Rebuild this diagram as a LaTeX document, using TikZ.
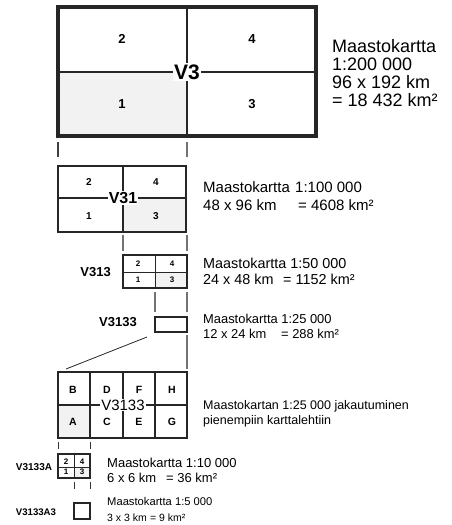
\documentclass[tikz,border=0pt]{standalone}
\usepackage{fontspec}
\setmainfont{Liberation Sans}
\begin{document}
\begin{tikzpicture}[x=1pt,y=-1pt,
  lbl/.style={font=\bfseries\fontsize{#1}{#1}\selectfont, inner sep=0pt},
  vlbl/.style={font=\bfseries\fontsize{#1}{#1}\selectfont, inner sep=1.2pt, fill=white},
  txt/.style={anchor=base west, inner sep=0pt, font=\fontsize{#1}{#1}\selectfont},
  conn/.style={draw=black!55, line width=1.1pt},
  shadecell/.style={fill=black!5},
  frame/.style={draw=black!85, line width=#1}
]
\useasboundingbox (0,0) rectangle (451,525);

% ---------- V3 ----------
\fill[shadecell] (58,72) rectangle (187,136);
\draw[frame=1.8pt] (58,72) -- (316,72) (187,7) -- (187,136);
\draw[frame=3.5pt] (58,7) rectangle (316,136);
\node[lbl=13] (v3a) at (122,39) {2};
\node[lbl=13] (v3b) at (252,39) {4};
\node[lbl=13] (v3c) at (122,104) {1};
\node[lbl=13] (v3d) at (252,104) {3};
\node[vlbl=21] (v3) at (187,72) {V3};
\node[txt=18] (t1a) at (332,52) {Maastokartta};
\node[txt=18] (t1b) at (332,70) {1:200 000};
\node[txt=18] (t1c) at (332,88) {96 x 192 km};
\node[txt=18] (t1d) at (332,106) {= 18 432 km²};

% connectors V3 -> V31
\coordinate (c1a) at (58,142); \coordinate (c1b) at (58,157);
\coordinate (c1c) at (187,142); \coordinate (c1d) at (187,157);
\draw[conn, draw=black!75] (c1a) -- (c1b);
\draw[conn] (c1c) -- (c1d);

% ---------- V31 ----------
\fill[shadecell] (123,198) rectangle (186,232);
\draw[frame=1.4pt] (58,198) -- (186,198) (123,166) -- (123,232);
\draw[frame=2pt] (58,166) rectangle (186,232);
\node[lbl=10] (v31a) at (89,182) {2};
\node[lbl=10] (v31b) at (156,182) {4};
\node[lbl=10] (v31c) at (89,216) {1};
\node[lbl=10] (v31d) at (156,216) {3};
\node[vlbl=16] (v31) at (123,198) {V31};
\node[txt=15] (t2a) at (203,192) {Maastokartta};
\node[txt=15] (t2b) at (295,192) {1:100 000};
\node[txt=15] (t2c) at (203,210) {48 x 96 km};
\node[txt=15] (t2d) at (298,210) {= 4608 km²};

% connectors V31 -> V313
\coordinate (c2a) at (123,235); \coordinate (c2b) at (123,251);
\coordinate (c2c) at (187,235); \coordinate (c2d) at (187,251);
\draw[conn] (c2a) -- (c2b);
\draw[conn] (c2c) -- (c2d);

% ---------- V313 ----------
\fill[shadecell] (155,272) rectangle (187,288);
\draw[frame=1pt] (123,272) -- (187,272) (155,255) -- (155,288);
\draw[frame=1.3pt] (123,255) rectangle (187,288);
\node[lbl=8] (v313a) at (138,264) {2};
\node[lbl=8] (v313b) at (172,264) {4};
\node[lbl=8] (v313c) at (138,280) {1};
\node[lbl=8] (v313d) at (172,280) {3};
\node[lbl=13, anchor=east] (v313) at (111,272) {V313};
\node[txt=14.4] (t3a) at (203,268) {Maastokartta 1:50 000};
\node[txt=14.4] (t3b) at (203,284) {24 x 48 km};
\node[txt=14.4] (t3c) at (283,284) {= 1152 km²};

% connectors V313 -> V3133
\coordinate (c3a) at (155,292); \coordinate (c3b) at (155,312);
\coordinate (c3c) at (187,292); \coordinate (c3d) at (187,312);
\draw[conn] (c3a) -- (c3b);
\draw[conn] (c3c) -- (c3d);

% ---------- V3133 small ----------
\draw[frame=1.3pt] (155,317) rectangle (187,332);
\node[lbl=13] (v3133s) at (118,322) {V3133};
\node[txt=12.9] (t4a) at (203,323) {Maastokartta 1:25 000};
\node[txt=12.9] (t4b) at (203,338) {12 x 24 km};
\node[txt=12.9] (t4c) at (281,338) {= 288 km²};

% expansion lines
\coordinate (e1) at (147,337); \coordinate (e2) at (66,369);
\coordinate (e3) at (187,335); \coordinate (e4) at (187,369);
\draw[draw=black!85, line width=0.8pt] (e1) -- (e2);
\draw[conn] (e3) -- (e4);

% ---------- V3133 grid ----------
\fill[shadecell] (58,405) rectangle (90,438);
\draw[frame=1.4pt] (58,405) -- (187,405) (90,372) -- (90,438) (123,372) -- (123,438) (155,372) -- (155,438);
\draw[frame=1.6pt] (58,372) rectangle (187,438);
\node[lbl=10.5] (gb) at (73,390) {B};
\node[lbl=10.5] (gd) at (107,390) {D};
\node[lbl=10.5] (gf) at (139,390) {F};
\node[lbl=10.5] (gh) at (172,390) {H};
\node[lbl=10.5] (ga) at (73,422) {A};
\node[lbl=10.5] (gc) at (107,422) {C};
\node[lbl=10.5] (ge) at (139,422) {E};
\node[lbl=10.5] (gg) at (172,422) {G};
\node[fill=white, font=\fontsize{15}{15}\selectfont, inner sep=1pt] (v3133) at (123,405) {V3133};
\node[txt=12.5] (t5a) at (203,409) {Maastokartan 1:25 000 jakautuminen};
\node[txt=12.5] (t5b) at (203,424) {pienempiin karttalehtiin};

% connectors grid -> V3133A
\coordinate (c4a) at (58,442); \coordinate (c4b) at (58,449);
\coordinate (c4c) at (90,442); \coordinate (c4d) at (90,449);
\draw[draw=black!80, line width=0.9pt] (c4a) -- (c4b);
\draw[draw=black!80, line width=0.9pt] (c4c) -- (c4d);

% ---------- V3133A ----------
\fill[shadecell] (74,467) rectangle (90,478);
\draw[frame=1pt] (58,467) -- (90,467) (74,454) -- (74,478);
\draw[frame=1.4pt] (58,454) rectangle (90,478);
\node[lbl=8] (aa) at (66,462) {2};
\node[lbl=8] (ab) at (82,462) {4};
\node[lbl=8] (ac) at (66,472) {1};
\node[lbl=8] (ad) at (82,472) {3};
\node[lbl=10] (v3133a) at (34,467) {V3133A};
\node[txt=13] (t6a) at (107,467) {Maastokartta 1:10 000};
\node[txt=13] (t6b) at (107,482) {6 x 6 km};
\node[txt=13] (t6c) at (166,482) {= 36 km²};

% connectors V3133A -> V3133A3
\coordinate (c5a) at (74,482); \coordinate (c5b) at (74,489);
\coordinate (c5c) at (90,482); \coordinate (c5d) at (90,489);
\draw[draw=black!80, line width=0.9pt] (c5a) -- (c5b);
\draw[draw=black!80, line width=0.9pt] (c5c) -- (c5d);

% ---------- V3133A3 ----------
\draw[frame=1.2pt] (74,503) rectangle (90,519);
\node[lbl=9.6] (v3133a3) at (36,512) {V3133A3};
\node[txt=11.2] (t7a) at (107,505.7) {Maastokartta 1:5 000};
\node[txt=10.5] (t7b) at (107,521) {3 x 3 km};
\node[txt=10.5] (t7c) at (150,521) {= 9 km²};
\end{tikzpicture}
\end{document}
